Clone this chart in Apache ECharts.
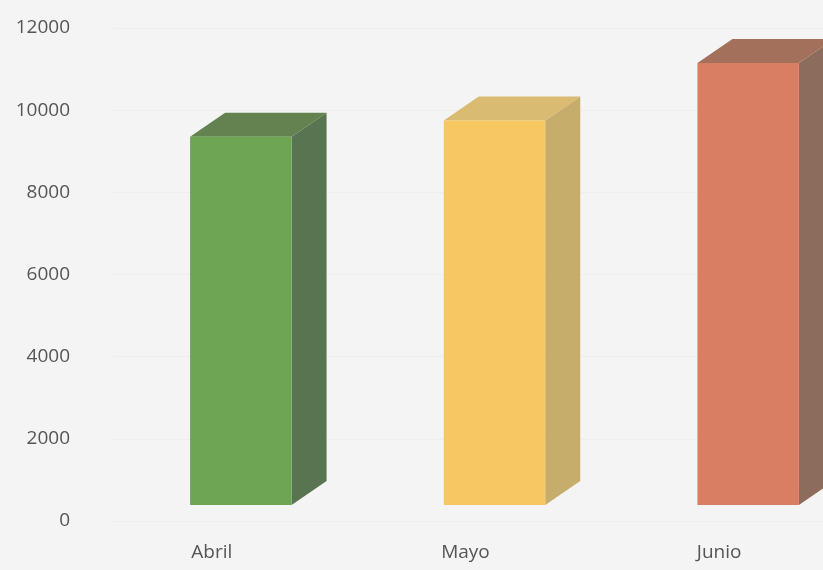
<!DOCTYPE html>
<html>
<head>
<meta charset="utf-8">
<script src="https://cdn.jsdelivr.net/npm/echarts@6/dist/echarts.min.js"></script>
<style>
html,body{margin:0;padding:0;background:#f4f4f4;}
#chart{width:823px;height:570px;}
</style>
</head>
<body>
<div id="chart"></div>
<script>
const categories = ['Abril', 'Mayo', 'Junio'];
const values = [9350, 9750, 11150];
const yTicks = { min: 0, max: 12000, interval: 2000 };

const frontColors = ['#6ea553', '#f5c862', '#da7e63'];
const topColors = ['#63824f', '#d9bb72', '#a3705c'];
const sideColors = ['#587450', '#c6ad6c', '#8c6d5b'];

const chart = echarts.init(document.getElementById('chart'));
const DX = 35, DY = 24, LIFT = 16;

chart.setOption({
  backgroundColor: '#f4f4f4',
  animation: false,
  grid: { left: 114, top: 28, width: 761, bottom: 49, containLabel: false, outerBoundsMode: 'none' },
  xAxis: {
    type: 'category',
    data: categories,
    axisLine: { show: false },
    axisTick: { show: false },
    axisLabel: {
      color: '#555555', fontSize: 19, fontFamily: 'Open Sans',
      margin: 22, padding: [0, 58, 0, 0]
    }
  },
  yAxis: {
    type: 'value',
    min: yTicks.min, max: yTicks.max, interval: yTicks.interval,
    axisLine: { show: false },
    axisTick: { show: false },
    splitLine: { lineStyle: { color: '#eeeeee', width: 1 } },
    axisLabel: {
      color: '#555555', fontSize: 19, fontFamily: 'Open Sans', margin: 44,
      formatter: function (v) { return String(v); }
    }
  },
  series: [{
    type: 'custom',
    data: values.map((v, i) => [i, v]),
    encode: { x: 0, y: 1 },
    clip: false,
    renderItem: function (params, api) {
      const i = params.dataIndex;
      const topPt = api.coord([api.value(0), api.value(1)]);
      const basePt = api.coord([api.value(0), 0]);
      const w = api.size([1, 0])[0] * 0.4;
      const x0 = topPt[0] - w / 2, x1 = topPt[0] + w / 2;
      const yT = topPt[1], yB = basePt[1] - LIFT;
      return {
        type: 'group',
        children: [
          { type: 'polygon', shape: { points: [[x1, yT], [x1 + DX, yT - DY], [x1 + DX, yB - DY], [x1, yB]] },
            style: { fill: sideColors[i] } },
          { type: 'polygon', shape: { points: [[x0, yT], [x0 + DX, yT - DY], [x1 + DX, yT - DY], [x1, yT]] },
            style: { fill: topColors[i] } },
          { type: 'rect', shape: { x: x0, y: yT, width: w, height: yB - yT },
            style: { fill: frontColors[i] } }
        ]
      };
    }
  }]
});
</script>
</body>
</html>
